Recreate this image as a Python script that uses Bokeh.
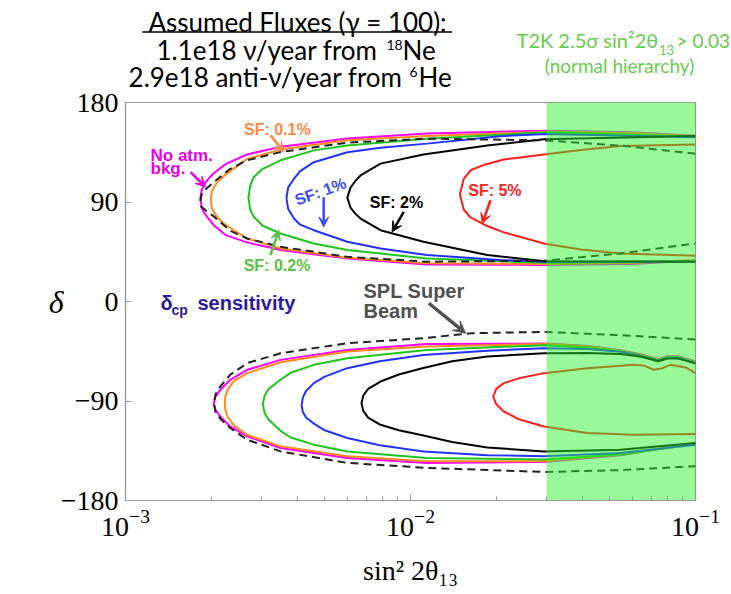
from bokeh.plotting import figure
from bokeh.models import Label, Arrow, VeeHead, FixedTicker, LogTickFormatter
from bokeh.layouts import column
from bokeh.embed import file_html
from bokeh.resources import INLINE

# ---------------- data ----------------
Y_TICKS = [-180, -90, 0, 90, 180]
Y_TICK_LABELS = ["\u2212180", "\u221290", "0", "90", "180"]
X_TICKS = [0.001, 0.01, 0.1]
X_MINOR = [0.002, 0.003, 0.004, 0.005, 0.006, 0.007, 0.008, 0.009,
           0.02, 0.03, 0.04, 0.05, 0.06, 0.07, 0.08, 0.09]
X_RANGE = (1e-3, 1e-1)
T2K_BOUND = 0.03

# upper lobes (delta ~ +90): right-top -> tip -> right-bottom
NOATM_UP_X = [0.1, 0.06, 0.03, 0.0114, 0.006, 0.0035, 0.00267, 0.00225, 0.00204, 0.00194, 0.00188, 0.00185, 0.00183,
              0.00185, 0.00188, 0.00194, 0.00204, 0.00225, 0.00267, 0.0035, 0.006, 0.0114, 0.03, 0.06, 0.1]
NOATM_UP_D = [150, 153, 154.5, 152, 147.5, 140, 133, 124.5, 116, 110, 105, 101, 93,
              85, 81, 76, 69, 60, 53.5, 46.5, 39, 33.5, 33, 34, 37]

SF01_UP_X = [0.1, 0.06, 0.03, 0.0114, 0.006, 0.0035, 0.00267, 0.00225, 0.00212, 0.00205, 0.00201, 0.00199,
             0.00201, 0.00205, 0.00212, 0.00225, 0.00267, 0.0035, 0.006, 0.0114, 0.03, 0.06, 0.1]
SF01_UP_D = [149.5, 152.5, 153.5, 149.6, 145.8, 137.4, 129, 115, 109, 104, 99.5, 92,
             84.5, 80, 75, 69, 57, 48, 39.5, 34.5, 34, 35, 37.5]

SPL_UP_X = [0.1, 0.0546, 0.0294, 0.0114, 0.006, 0.0035, 0.00267, 0.00233, 0.00204, 0.0019, 0.00185, 0.00183,
            0.00184, 0.00192, 0.00204, 0.00233, 0.00267, 0.0035, 0.006, 0.0114, 0.0294, 0.0546, 0.1]
SPL_UP_D = [133.7, 141, 145.8, 147.3, 143.7, 135.2, 127.7, 120, 108, 101, 97, 90,
            86, 82, 77, 64, 57, 49.5, 40.4, 36, 36.8, 43.5, 52.5]

SF02_UP_X = [0.1, 0.03, 0.0114, 0.006, 0.00458, 0.0035, 0.00303, 0.00282, 0.00274, 0.0027,
             0.00274, 0.00282, 0.00303, 0.0035, 0.00458, 0.006, 0.0114, 0.03, 0.1]
SF02_UP_D = [149, 153, 147.3, 141.2, 136.7, 127.7, 120, 112.6, 105, 94,
             83, 76.5, 68.5, 61.5, 52.5, 46.5, 39, 35, 36.5]

SF1_UP_X = [0.1, 0.03, 0.0206, 0.0114, 0.00785, 0.006, 0.00458, 0.0041, 0.0039, 0.00372, 0.00367,
            0.00372, 0.0039, 0.0041, 0.00458, 0.006, 0.00785, 0.0114, 0.0206, 0.03, 0.1]
SF1_UP_D = [148.5, 151.5, 149.5, 142.8, 139, 135, 126, 118, 111, 103, 93.5,
            84, 75, 69.5, 64.5, 54, 48, 42, 37.5, 36, 36]

SF2_UP_X = [0.1, 0.0294, 0.0186, 0.0111, 0.00785, 0.00668, 0.0064, 0.00616, 0.006,
            0.00616, 0.0064, 0.00668, 0.00785, 0.0111, 0.0186, 0.0294, 0.1]
SF2_UP_D = [149.6, 146.7, 141.2, 133, 124.7, 114, 109, 103, 94,
            85, 79.5, 75, 64.5, 54, 42, 36.5, 36]

SF5_UP_X = [0.1, 0.0546, 0.0396, 0.0294, 0.02125, 0.0183, 0.01624, 0.01538, 0.0149,
            0.01538, 0.01624, 0.0183, 0.02125, 0.0294, 0.0396, 0.0546, 0.1]
SF5_UP_D = [142, 140.6, 137, 133, 128.5, 124, 118.7, 111, 97,
            83, 76, 69, 62.5, 52.5, 47, 43.5, 41.3]

# lower lobes (delta ~ -90)
SPL_LO_X = [0.1, 0.0546, 0.0294, 0.0163, 0.0111, 0.006, 0.0035, 0.00267, 0.00233, 0.00215, 0.00207, 0.00204,
            0.00207, 0.00215, 0.00233, 0.00267, 0.0035, 0.006, 0.0114, 0.0294, 0.0546, 0.1]
SPL_LO_D = [-34.4, -30.5, -27.5, -28.7, -33.2, -37.7, -46.8, -55.8, -66.3, -77, -84, -92,
            -100, -106, -114.4, -125, -135.6, -146, -150.5, -154.2, -152.5, -149]

NOATM_LO_X = [0.1, 0.087, 0.08, 0.074, 0.0646, 0.0546, 0.0417, 0.0294, 0.0114, 0.006, 0.0035, 0.00267, 0.00233,
              0.00215, 0.00207, 0.00204, 0.00207, 0.00215, 0.00233, 0.00267, 0.0035, 0.006, 0.0114, 0.0294,
              0.0546, 0.1]
NOATM_LO_D = [-54.3, -49.5, -49.5, -52, -48, -44, -40, -38, -38.5, -43.8, -52.8, -61.8, -70.8,
              -80, -86, -92, -98, -104, -113, -122, -132.5, -141.5, -146, -145.1,
              -139, -128]

SF01_LO_X = [0.1, 0.087, 0.08, 0.074, 0.0646, 0.0546, 0.0417, 0.0294, 0.0114, 0.006, 0.0035, 0.00267, 0.0024,
             0.00228, 0.00224, 0.00223, 0.00224, 0.00228, 0.0024, 0.00267, 0.0035, 0.006, 0.0114, 0.0294,
             0.0546, 0.1]
SF01_LO_D = [-54.8, -50, -50, -52.5, -48.5, -44.5, -40.5, -38.5, -40.8, -45.3, -54.9, -64.8, -72,
             -80, -86, -92, -98, -104, -112, -120.5, -131, -140, -144.6, -144.5,
             -138.5, -128]

SF02_LO_X = [0.1, 0.087, 0.08, 0.074, 0.0646, 0.0546, 0.0417, 0.0294, 0.0114, 0.006, 0.00458, 0.0038, 0.0035,
             0.00318, 0.00308, 0.00303, 0.00308, 0.00318, 0.0035, 0.0038, 0.00458, 0.006, 0.0114, 0.0294,
             0.0546, 0.1]
SF02_LO_D = [-55.3, -50.5, -50.5, -53, -49, -45, -41.5, -39.5, -43.8, -51.3, -57.3, -64.5, -70.8,
             -79, -85, -93, -101, -107, -117, -123, -129.5, -135.6, -141.5, -143,
             -138.5, -129]

SF1_LO_X = [0.1, 0.087, 0.08, 0.074, 0.0646, 0.0546, 0.0417, 0.0294, 0.0186, 0.0111, 0.0078, 0.006, 0.005,
            0.00458, 0.0043, 0.00419, 0.00415, 0.00419, 0.0043, 0.00458, 0.005, 0.006, 0.0078, 0.0111,
            0.0186, 0.0294, 0.0546, 0.1]
SF1_LO_D = [-55.8, -51, -51, -53.5, -49.5, -45.5, -43, -42.3, -44.5, -48.3, -54, -60.3, -68,
            -73.8, -81, -87, -94, -100, -105, -110.5, -116.5, -123.5, -130, -135.6,
            -139, -140, -137, -129.5]

SF2_LO_X = [0.1, 0.087, 0.08, 0.074, 0.0646, 0.0546, 0.0417, 0.0294, 0.0186, 0.014, 0.011, 0.0091, 0.00785,
            0.0071, 0.00683, 0.00673, 0.00683, 0.0071, 0.00785, 0.0091, 0.011, 0.014, 0.0186, 0.0294,
            0.0546, 0.1]
SF2_LO_D = [-56, -51.5, -51.5, -54, -50, -47.5, -46.5, -46.8, -49.8, -54, -60.3, -66, -72.4,
            -79, -85, -92, -99, -105, -111.5, -116.5, -121, -127, -132, -135.6,
            -134, -128]

SF5_LO_X = [0.1, 0.093, 0.0817, 0.076, 0.0715, 0.066, 0.0608, 0.0417, 0.0294, 0.024, 0.02125, 0.02, 0.0195,
            0.02, 0.02125, 0.024, 0.0294, 0.0417, 0.0608, 0.1]
SF5_LO_D = [-64.8, -60, -57.3, -60.5, -61.8, -58, -57.3, -60.3, -64.8, -69.5, -73.8, -79, -86,
            -93, -99.5, -106.5, -113, -119, -120.5, -119.9]

MAGENTA = "#FF00FF"
ORANGE = "#FF8A1E"
GREEN = "#1FC41F"
BLUE = "#2233FF"
BLACK = "#000000"
RED = "#FF1E1E"
DASH = "#222222"
T2K_TEXT = "#66CC4D"

DESC = 0.27  # alphabetic-baseline correction (fraction of font size)

# ---------------- header strip (its own small canvas, page-pixel coordinates) ----------------
HEAD_H = 92
head = figure(width=731, height=HEAD_H, x_range=(0, 731), y_range=(HEAD_H, 0),
              output_backend="svg", toolbar_location=None,
              x_axis_location=None, y_axis_location=None,
              min_border_left=0, min_border_right=0, min_border_top=0, min_border_bottom=0)
head.xgrid.visible = False
head.ygrid.visible = False
head.outline_line_color = None
head.background_fill_color = "white"
head.border_fill_color = "white"

TF = "Lato"


def hlab(x, base, text, size=26, color="black", align="left"):
    head.add_layout(Label(x=x, y=base - DESC * size, text=text, text_color=color,
                          text_font_size=f"{size}px", text_font=TF, text_align=align,
                          text_baseline="alphabetic"))


hlab(296.7, 28.5, "Assumed Fluxes (\u03b3 = 100):", align="center")
head.line([141.7, 451.7], [31.5, 31.5], line_color="black", line_width=1.5)
hlab(377, 57, "1.1e18 \u03bd/year from", align="right")
hlab(386, 48, "18", size=14)
hlab(402, 57, "Ne")
hlab(402, 83.5, "2.9e18 anti-\u03bd/year from", align="right")
hlab(409, 75, "6", size=14)
hlab(418, 83.5, "He")
hlab(657.7, 45, "T2K 2.5\u03c3 sin\u00b22\u03b8", size=20, color=T2K_TEXT, align="right")
hlab(658.5, 53, "13", size=13, color=T2K_TEXT)
hlab(676, 45, "> 0.03", size=19, color=T2K_TEXT)
hlab(619, 70, "(normal hierarchy)", size=19, color=T2K_TEXT, align="center")

# ---------------- main plot ----------------
p = figure(width=731, height=594 - HEAD_H, x_axis_type="log", x_range=X_RANGE, y_range=(-180, 180),
           output_backend="svg", toolbar_location=None,
           min_border_left=125, min_border_right=36, min_border_top=102 - HEAD_H, min_border_bottom=94)
p.xgrid.visible = False
p.ygrid.visible = False
p.outline_line_color = "#999999"
p.outline_line_width = 1.2
p.background_fill_color = "white"
p.border_fill_color = "white"

# the two canvases must not have their frames lined up with each other
for fig in (head, p):
    try:
        fig.frame_align = False
    except Exception:
        pass

for ax in (p.xaxis[0], p.yaxis[0]):
    ax.axis_line_color = "#999999"
    ax.axis_line_width = 1.2
    ax.major_tick_line_color = "#999999"
    ax.minor_tick_line_color = "#999999"
    ax.major_tick_in = 6
    ax.major_tick_out = 0
    ax.minor_tick_in = 4
    ax.minor_tick_out = 0
    ax.major_label_text_font = "Liberation Serif"
    ax.major_label_text_font_size = "28px"
    ax.major_label_text_color = "black"
    ax.axis_label_text_font = "Liberation Serif"
    ax.axis_label_text_color = "black"

p.yaxis[0].ticker = FixedTicker(ticks=Y_TICKS)
p.yaxis[0].major_label_overrides = {t: s for t, s in zip(Y_TICKS, Y_TICK_LABELS)}
p.yaxis[0].major_label_standoff = 7
p.yaxis[0].axis_label = "\u03b4"
p.yaxis[0].axis_label_text_font_size = "32px"
p.yaxis[0].axis_label_text_font_style = "italic"
p.yaxis[0].axis_label_standoff = -6
try:
    p.yaxis[0].axis_label_orientation = "horizontal"
except Exception:
    pass

p.xaxis[0].ticker = FixedTicker(ticks=X_TICKS, minor_ticks=X_MINOR)
p.xaxis[0].formatter = LogTickFormatter()
p.xaxis[0].major_label_standoff = 9
p.xaxis[0].axis_label = "sin\u00b2 2\u03b8\u2081\u2083"
p.xaxis[0].axis_label_text_font_size = "28px"
p.xaxis[0].axis_label_text_font_style = "normal"
p.xaxis[0].axis_label_standoff = 16

curves = [
    (NOATM_UP_X, NOATM_UP_D, MAGENTA), (NOATM_LO_X, NOATM_LO_D, MAGENTA),
    (SF01_UP_X, SF01_UP_D, ORANGE), (SF01_LO_X, SF01_LO_D, ORANGE),
    (SF02_UP_X, SF02_UP_D, GREEN), (SF02_LO_X, SF02_LO_D, GREEN),
    (SF1_UP_X, SF1_UP_D, BLUE), (SF1_LO_X, SF1_LO_D, BLUE),
    (SF2_UP_X, SF2_UP_D, BLACK), (SF2_LO_X, SF2_LO_D, BLACK),
    (SF5_UP_X, SF5_UP_D, RED), (SF5_LO_X, SF5_LO_D, RED),
]
for xs, ds, c in curves:
    p.line(xs, ds, line_color=c, line_width=2)
for xs, ds in ((SPL_UP_X, SPL_UP_D), (SPL_LO_X, SPL_LO_D)):
    p.line(xs, ds, line_color=DASH, line_width=2, line_dash="8 5")

# T2K excluded region (translucent overlay)
p.quad(left=[T2K_BOUND], right=[X_RANGE[1]], bottom=[-180], top=[180],
       fill_color="#28F528", fill_alpha=0.48, line_color=None)


def lab(x, y, text, color="black", size="16px", font="Liberation Sans", style="bold",
        align="center", baseline="middle", angle=0.0):
    p.add_layout(Label(x=x, y=y, text=text, text_color=color, text_font_size=size,
                       text_font=font, text_font_style=style, text_align=align,
                       text_baseline=baseline, angle=angle))


def arrow(x0, y0, x1, y1, color, width=2.5, size=10):
    p.add_layout(Arrow(end=VeeHead(size=size, fill_color=color, line_color=color),
                       x_start=x0, y_start=y0, x_end=x1, y_end=y1,
                       line_color=color, line_width=width))


lab(0.00341, 155.7, "SF: 0.1%", "#F58A4B")
arrow(0.003226, 150.3, 0.003592, 135.2, "#F58A4B")
lab(0.001224, 132.2, "No atm.", "#E600E6", size="17px", align="left")
lab(0.001224, 120.0, "bkg.", "#E600E6", size="17px", align="left")
arrow(0.001691, 117.1, 0.001909, 103.6, "#E600E6")
lab(0.00483, 99.5, "SF: 1%", "#3A4BFF", angle=0.35)
arrow(0.00496, 94.3, 0.00496, 67.5, "#3A4BFF")
lab(0.00893, 89.8, "SF: 2%", "black")
arrow(0.00947, 81.0, 0.00862, 63.0, "black")
lab(0.01978, 100.6, "SF: 5%", "#FF1E1E")
arrow(0.01909, 91.6, 0.01785, 70.6, "#FF1E1E")
lab(0.003401, 32.9, "SF: 0.2%", "#5CBF45")
arrow(0.003226, 42.0, 0.003451, 64.5, "#5CBF45")

lab(0.001327, -1.0, "\u03b4", "#2D1A9B", size="20px", align="left", baseline="alphabetic")
lab(0.00145, -7.9, "cp", "#2D1A9B", size="14px", align="left", baseline="alphabetic")
lab(0.001789, -1.0, "sensitivity", "#2D1A9B", size="20px", align="left", baseline="alphabetic")

lab(0.00684, 9.5, "SPL Super", "#505050", size="20px", align="left")
lab(0.00684, -8.6, "Beam", "#505050", size="20px", align="left")
arrow(0.0116, -1.6, 0.0156, -28.7, "#505050", width=3.5, size=12)

open("out.html", "w").write(file_html(column(head, p, spacing=0), INLINE))
